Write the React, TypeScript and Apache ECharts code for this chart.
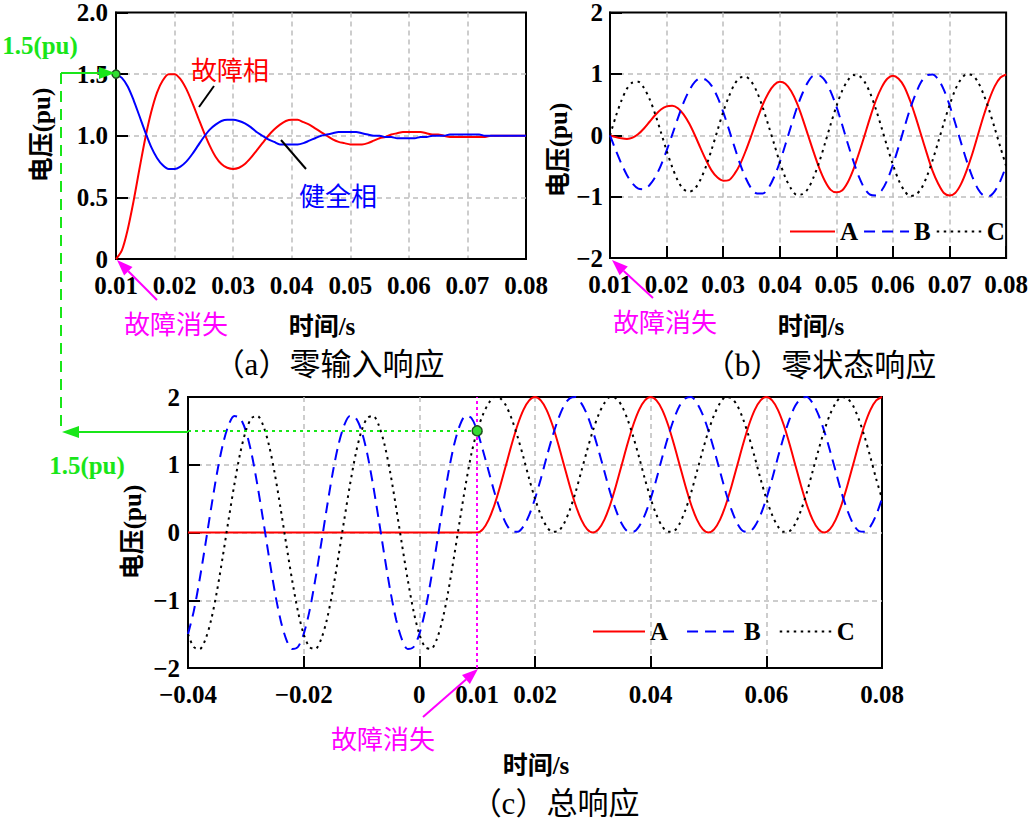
import React, { useEffect, useRef } from "react";
import * as echarts from "echarts";

// ---- sampling grid (seconds) ----
const T_STEP = 0.001;
const T_AB_START = 0.01; // panels (a) and (b)
const T_C_START = -0.04; // panel (c)

// ---- tick labels ----
const X_LABELS_AB = [0.01, 0.02, 0.03, 0.04, 0.05, 0.06, 0.07, 0.08];
const X_LABELS_C = [-0.04, -0.02, 0, 0.01, 0.02, 0.04, 0.06, 0.08];

// ---- (a) zero-input response ----
const A_FAULT = [
  0, 0.07, 0.24, 0.47, 0.73, 0.98, 1.19, 1.35, 1.45, 1.5,
  1.5, 1.46, 1.38, 1.27, 1.15, 1.03, 0.92, 0.83, 0.77, 0.74,
  0.73, 0.74, 0.77, 0.82, 0.88, 0.94, 1.0, 1.05, 1.09, 1.12,
  1.13, 1.13, 1.11, 1.09, 1.06, 1.03, 1.0, 0.97, 0.95, 0.94,
  0.93, 0.93, 0.93, 0.94, 0.96, 0.98, 0.99, 1.01, 1.02, 1.03,
  1.03, 1.03, 1.03, 1.02, 1.01, 1.01, 1.0, 0.99, 0.99, 0.99,
  0.99, 0.99, 0.99, 0.99, 1.0, 1.0, 1.0, 1.0, 1.0, 1.0,
  1.0,
];
const A_HEALTHY = [
  1.5, 1.47, 1.4, 1.29, 1.16, 1.03, 0.91, 0.82, 0.76, 0.73,
  0.73, 0.75, 0.79, 0.85, 0.92, 0.99, 1.05, 1.09, 1.12, 1.13,
  1.13, 1.12, 1.1, 1.07, 1.03, 1.0, 0.97, 0.95, 0.93, 0.93,
  0.93, 0.93, 0.94, 0.96, 0.98, 1.0, 1.01, 1.02, 1.03, 1.03,
  1.03, 1.03, 1.02, 1.01, 1.0, 1.0, 0.99, 0.99, 0.98, 0.98,
  0.98, 0.98, 0.99, 0.99, 1.0, 1.0, 1.0, 1.01, 1.01, 1.01,
  1.01, 1.01, 1.01, 1.0, 1.0, 1.0, 1.0, 1.0, 1.0, 1.0,
  1.0,
];

// ---- (b) zero-state response ----
const B_PHASE_A = [
  0, -0.03, -0.05, -0.06, -0.04, 0.02, 0.11, 0.22, 0.33, 0.42,
  0.47, 0.48, 0.44, 0.34, 0.19, 0.0, -0.21, -0.41, -0.58, -0.69,
  -0.74, -0.73, -0.63, -0.47, -0.25, 0.0, 0.26, 0.5, 0.69, 0.82,
  0.87, 0.84, 0.72, 0.53, 0.28, 0.0, -0.28, -0.54, -0.75, -0.89,
  -0.93, -0.9, -0.77, -0.56, -0.29, 0.0, 0.3, 0.57, 0.78, 0.92,
  0.97, 0.92, 0.79, 0.57, 0.3, 0.0, -0.3, -0.58, -0.79, -0.94,
  -0.98, -0.94, -0.8, -0.58, -0.31, 0.0, 0.31, 0.58, 0.8, 0.94,
  0.99,
];
const B_PHASE_B = [
  0, -0.24, -0.46, -0.65, -0.79, -0.87, -0.88, -0.81, -0.68, -0.49,
  -0.25, 0.01, 0.28, 0.53, 0.73, 0.87, 0.93, 0.9, 0.8, 0.62,
  0.38, 0.1, -0.19, -0.47, -0.7, -0.87, -0.95, -0.95, -0.86, -0.68,
  -0.44, -0.15, 0.15, 0.44, 0.68, 0.87, 0.97, 0.97, 0.89, 0.71,
  0.47, 0.18, -0.13, -0.42, -0.68, -0.87, -0.97, -0.98, -0.9, -0.73,
  -0.48, -0.19, 0.12, 0.42, 0.67, 0.87, 0.98, 0.99, 0.91, 0.74,
  0.49, 0.2, -0.11, -0.41, -0.67, -0.87, -0.98, -0.99, -0.91, -0.74,
  -0.5,
];
const B_PHASE_C = [
  0, 0.3, 0.56, 0.76, 0.86, 0.87, 0.77, 0.59, 0.34, 0.05,
  -0.25, -0.52, -0.74, -0.88, -0.92, -0.87, -0.72, -0.5, -0.22, 0.08,
  0.38, 0.63, 0.83, 0.94, 0.95, 0.87, 0.7, 0.45, 0.16, -0.14,
  -0.44, -0.69, -0.87, -0.97, -0.96, -0.87, -0.68, -0.43, -0.13, 0.18,
  0.47, 0.72, 0.89, 0.98, 0.97, 0.87, 0.68, 0.42, 0.12, -0.19,
  -0.48, -0.73, -0.9, -0.99, -0.97, -0.87, -0.67, -0.41, -0.11, 0.2,
  0.49, 0.74, 0.91, 0.99, 0.98, 0.87, 0.67, 0.41, 0.11, -0.2,
  -0.5,
];

// ---- (c) total response ----
const C_PHASE_A = [
  0, 0, 0, 0, 0, 0, 0, 0, 0, 0,
  0, 0, 0, 0, 0, 0, 0, 0, 0, 0,
  0, 0, 0, 0, 0, 0, 0, 0, 0, 0,
  0, 0, 0, 0, 0, 0, 0, 0, 0, 0,
  0, 0, 0, 0, 0, 0, 0, 0, 0, 0,
  0,
  0.05, 0.19, 0.41, 0.69, 1.0, 1.31, 1.59, 1.81, 1.95, 2.0,
  1.95, 1.81, 1.59, 1.31, 1.0, 0.69, 0.41, 0.19, 0.05, 0.0,
  0.05, 0.19, 0.41, 0.69, 1.0, 1.31, 1.59, 1.81, 1.95, 2.0,
  1.95, 1.81, 1.59, 1.31, 1.0, 0.69, 0.41, 0.19, 0.05, 0.0,
  0.05, 0.19, 0.41, 0.69, 1.0, 1.31, 1.59, 1.81, 1.95, 2.0,
  1.95, 1.81, 1.59, 1.31, 1.0, 0.69, 0.41, 0.19, 0.05, 0.0,
  0.05, 0.19, 0.41, 0.69, 1.0, 1.31, 1.59, 1.81, 1.95, 2.0,
];
const C_PHASE_B = [
  -1.5, -1.16, -0.7, -0.18, 0.36, 0.87, 1.29, 1.58, 1.72, 1.69,
  1.5, 1.16, 0.7, 0.18, -0.36, -0.87, -1.29, -1.58, -1.72, -1.69,
  -1.5, -1.16, -0.7, -0.18, 0.36, 0.87, 1.29, 1.58, 1.72, 1.69,
  1.5, 1.16, 0.7, 0.18, -0.36, -0.87, -1.29, -1.58, -1.72, -1.69,
  -1.5, -1.16, -0.7, -0.18, 0.36, 0.87, 1.29, 1.58, 1.72, 1.69,
  1.5,
  1.21, 0.9, 0.59, 0.33, 0.13, 0.02, 0.01, 0.09, 0.26, 0.5,
  0.79, 1.11, 1.41, 1.67, 1.87, 1.98, 2.0, 1.91, 1.74, 1.5,
  1.21, 0.9, 0.59, 0.33, 0.13, 0.02, 0.01, 0.09, 0.26, 0.5,
  0.79, 1.11, 1.41, 1.67, 1.87, 1.98, 2.0, 1.91, 1.74, 1.5,
  1.21, 0.9, 0.59, 0.33, 0.13, 0.02, 0.01, 0.09, 0.26, 0.5,
  0.79, 1.11, 1.41, 1.67, 1.87, 1.98, 2.0, 1.91, 1.74, 1.5,
  1.21, 0.9, 0.59, 0.33, 0.13, 0.02, 0.01, 0.09, 0.26, 0.5,
];
const C_PHASE_C = [
  -1.5, -1.69, -1.72, -1.58, -1.29, -0.87, -0.36, 0.18, 0.7, 1.16,
  1.5, 1.69, 1.72, 1.58, 1.29, 0.87, 0.36, -0.18, -0.7, -1.16,
  -1.5, -1.69, -1.72, -1.58, -1.29, -0.87, -0.36, 0.18, 0.7, 1.16,
  1.5, 1.69, 1.72, 1.58, 1.29, 0.87, 0.36, -0.18, -0.7, -1.16,
  -1.5, -1.69, -1.72, -1.58, -1.29, -0.87, -0.36, 0.18, 0.7, 1.16,
  1.5,
  1.74, 1.91, 2.0, 1.98, 1.87, 1.67, 1.41, 1.11, 0.79, 0.5,
  0.26, 0.09, 0.01, 0.02, 0.13, 0.33, 0.59, 0.9, 1.21, 1.5,
  1.74, 1.91, 2.0, 1.98, 1.87, 1.67, 1.41, 1.11, 0.79, 0.5,
  0.26, 0.09, 0.01, 0.02, 0.13, 0.33, 0.59, 0.9, 1.21, 1.5,
  1.74, 1.91, 2.0, 1.98, 1.87, 1.67, 1.41, 1.11, 0.79, 0.5,
  0.26, 0.09, 0.01, 0.02, 0.13, 0.33, 0.59, 0.9, 1.21, 1.5,
  1.74, 1.91, 2.0, 1.98, 1.87, 1.67, 1.41, 1.11, 0.79, 0.5,
];

// fault clearing instant and marked voltage
const FAULT_CLEAR_T = 0.01;
const MARK_V = 1.5;

const SERIF = '"Liberation Serif", "Times New Roman", serif';
const MIXED = '"Liberation Serif", "Noto Sans CJK SC", serif';
const CJK = '"Noto Sans CJK SC", sans-serif';
const RED = "#ff0000";
const BLUE = "#0000ff";
const MAGENTA = "#ff00ff";
const GREEN = "#19e619";
const GRID_GRAY = "#bdbdbd";

const toPairs = (t0: number, vals: number[]) =>
  vals.map((v, i) => [+(t0 + i * T_STEP).toFixed(3), v]);

const fmtSigned = (v: number) => (v < 0 ? "\u2212" + Math.abs(v) : String(v));

function text(x: number, y: number, s: string, color: string, size: number, font: string, opts: any = {}) {
  return {
    type: "text",
    x,
    y,
    rotation: opts.rotation || 0,
    z: 100,
    style: {
      text: s,
      fill: color,
      fontSize: size,
      fontFamily: font,
      fontWeight: opts.weight || "normal",
      align: "center",
      verticalAlign: "middle",
    },
  };
}
function seg(x1: number, y1: number, x2: number, y2: number, color: string, w = 2, dash: any = null) {
  return {
    type: "line",
    z: 100,
    shape: { x1, y1, x2, y2 },
    style: { stroke: color, lineWidth: w, lineDash: dash },
  };
}
function head(pts: number[][], color: string) {
  return { type: "polygon", z: 100, shape: { points: pts }, style: { fill: color } };
}

export default function App() {
  const ref = useRef<HTMLDivElement>(null);
  useEffect(() => {
    if (!ref.current) return;
    const chart = echarts.init(ref.current, null, { renderer: "svg" });

    const axisLineStyle = { onZero: false, lineStyle: { color: "#000", width: 2 } };
    const splitLine = {
      show: true, showMinLine: false, showMaxLine: false,
      lineStyle: { color: GRID_GRAY, width: 1.5, type: [5, 4] },
    };
    const tickInside = { show: true, inside: true, length: 12, lineStyle: { color: "#000", width: 2 } };
    const labelStyle = { color: "#000", fontFamily: SERIF, fontSize: 25, fontWeight: "bold" };

    const dashedB = { color: BLUE, width: 2, type: [11, 7] };
    const dottedC = { color: "#000", width: 2, type: [2.5, 4.5] };
    const legendText = { fontFamily: SERIF, fontSize: 25, fontWeight: "bold", color: "#000" };

    const option: any = {
      animation: false,
      backgroundColor: "#fff",
      grid: [
        { left: 116, top: 11, width: 410, height: 248, show: true, borderColor: "#000", borderWidth: 2 },
        { left: 610, top: 7, width: 400, height: 251, show: true, borderColor: "#000", borderWidth: 2 },
        { left: 188, top: 397, width: 694, height: 271, show: true, borderColor: "#000", borderWidth: 2 },
      ],
      xAxis: [
        {
          type: "value", gridIndex: 0, min: 0.01, max: 0.08, interval: 0.01,
          axisLine: axisLineStyle, axisTick: { show: false }, splitLine,
          axisLabel: { ...labelStyle, margin: 14, customValues: X_LABELS_AB, formatter: (v: number) => v.toFixed(2) },
        },
        {
          type: "value", gridIndex: 1, min: 0.01, max: 0.08, interval: 0.01,
          axisLine: axisLineStyle, axisTick: tickInside, splitLine,
          axisLabel: { ...labelStyle, margin: 14, customValues: X_LABELS_AB, formatter: (v: number) => v.toFixed(2) },
        },
        {
          type: "value", gridIndex: 2, min: -0.04, max: 0.08, interval: 0.02,
          axisLine: axisLineStyle, axisTick: tickInside, splitLine,
          axisLabel: {
            ...labelStyle, margin: 14, customValues: X_LABELS_C,
            formatter: (v: number) => (v === 0 ? "0" : (v < 0 ? "\u2212" : "") + Math.abs(v).toFixed(2)),
          },
        },
      ],
      yAxis: [
        {
          type: "value", gridIndex: 0, min: 0, max: 2, interval: 0.5,
          axisLine: axisLineStyle, axisTick: tickInside, splitLine,
          axisLabel: { ...labelStyle, margin: 8, formatter: (v: number) => (v === 0 ? "0" : v.toFixed(1)) },
        },
        {
          type: "value", gridIndex: 1, min: -2, max: 2, interval: 1,
          axisLine: axisLineStyle, axisTick: tickInside, splitLine,
          axisLabel: { ...labelStyle, margin: 7, formatter: fmtSigned },
        },
        {
          type: "value", gridIndex: 2, min: -2, max: 2, interval: 1,
          axisLine: axisLineStyle, axisTick: tickInside, splitLine,
          axisLabel: { ...labelStyle, margin: 8, formatter: fmtSigned },
        },
      ],
      legend: [
        {
          left: 789, top: 219, width: 240, padding: 0, itemWidth: 45, itemHeight: 14, itemGap: 5,
          data: ["A", "B", "C"], selectedMode: false,
          itemStyle: { opacity: 0 },
          textStyle: legendText,
        },
        {
          left: 592, top: 619, width: 300, padding: 0, itemWidth: 52, itemHeight: 14, itemGap: 18,
          data: ["A", "B", "C"], selectedMode: false,
          itemStyle: { opacity: 0 },
          textStyle: legendText,
        },
      ],
      series: [
        {
          name: "故障相", type: "line", xAxisIndex: 0, yAxisIndex: 0, symbol: "none", smooth: 0.3,
          data: toPairs(T_AB_START, A_FAULT), lineStyle: { color: RED, width: 2 }, itemStyle: { color: RED },
        },
        {
          name: "健全相", type: "line", xAxisIndex: 0, yAxisIndex: 0, symbol: "none", smooth: 0.3,
          data: toPairs(T_AB_START, A_HEALTHY), lineStyle: { color: BLUE, width: 2 }, itemStyle: { color: BLUE },
          markPoint: {
            symbol: "circle", symbolSize: 8, silent: true, label: { show: false },
            itemStyle: { color: "#33dd33", borderColor: "#1f4f1f", borderWidth: 1.5 },
            data: [{ coord: [FAULT_CLEAR_T, MARK_V] }],
          },
        },
        {
          name: "A", type: "line", xAxisIndex: 1, yAxisIndex: 1, symbol: "none", smooth: 0.3,
          data: toPairs(T_AB_START, B_PHASE_A), lineStyle: { color: RED, width: 2 }, itemStyle: { color: RED },
        },
        {
          name: "B", type: "line", xAxisIndex: 1, yAxisIndex: 1, symbol: "none", smooth: 0.3,
          data: toPairs(T_AB_START, B_PHASE_B), lineStyle: dashedB, itemStyle: { color: BLUE },
        },
        {
          name: "C", type: "line", xAxisIndex: 1, yAxisIndex: 1, symbol: "none", smooth: 0.3,
          data: toPairs(T_AB_START, B_PHASE_C), lineStyle: dottedC, itemStyle: { color: "#000" },
        },
        {
          name: "A", type: "line", xAxisIndex: 2, yAxisIndex: 2, symbol: "none", smooth: 0.3,
          data: toPairs(T_C_START, C_PHASE_A), lineStyle: { color: RED, width: 2 }, itemStyle: { color: RED },
          markLine: {
            silent: true, symbol: ["none", "none"], label: { show: false },
            data: [
              { xAxis: FAULT_CLEAR_T, lineStyle: { color: MAGENTA, width: 2, type: [3, 3] } },
              [
                { coord: [-0.04, MARK_V], lineStyle: { color: GREEN, width: 2, type: [3, 4] } },
                { coord: [FAULT_CLEAR_T, MARK_V] },
              ],
            ],
          },
        },
        {
          name: "B", type: "line", xAxisIndex: 2, yAxisIndex: 2, symbol: "none", smooth: 0.3,
          data: toPairs(T_C_START, C_PHASE_B), lineStyle: dashedB, itemStyle: { color: BLUE },
        },
        {
          name: "C", type: "line", xAxisIndex: 2, yAxisIndex: 2, symbol: "none", smooth: 0.3,
          data: toPairs(T_C_START, C_PHASE_C), lineStyle: dottedC, itemStyle: { color: "#000" },
          markPoint: {
            symbol: "circle", symbolSize: 10, silent: true, label: { show: false },
            itemStyle: { color: "#33dd33", borderColor: "#1f4f1f", borderWidth: 1.5 },
            data: [{ coord: [FAULT_CLEAR_T, MARK_V] }],
          },
        },
      ],
      graphic: [
        // titles
        text(329, 364, "（a）零输入响应", "#000", 31, MIXED),
        text(820, 365, "（b）零状态响应", "#000", 31, MIXED),
        text(555, 803, "（c）总响应", "#000", 31, MIXED),
        // axis names
        text(322, 326, "时间/s", "#000", 25, MIXED, { weight: "bold" }),
        text(811, 326, "时间/s", "#000", 25, MIXED, { weight: "bold" }),
        text(536, 765, "时间/s", "#000", 25, MIXED, { weight: "bold" }),
        text(41, 135, "电压(pu)", "#000", 25, MIXED, { weight: "bold", rotation: Math.PI / 2 }),
        text(558, 150, "电压(pu)", "#000", 25, MIXED, { weight: "bold", rotation: Math.PI / 2 }),
        text(132, 532, "电压(pu)", "#000", 25, MIXED, { weight: "bold", rotation: Math.PI / 2 }),
        // (a) annotations
        text(230, 68, "故障相", RED, 26, CJK),
        seg(214, 86, 199, 107, "#000", 2),
        text(338, 194, "健全相", BLUE, 26, CJK),
        seg(281, 140, 306, 169, "#000", 2),
        // fault clearing arrows and labels
        text(176, 322, "故障消失", MAGENTA, 26, CJK),
        seg(157, 300, 128.3, 271.3, MAGENTA, 2),
        head([[117, 260], [132.5, 267.1], [124.1, 275.5]], MAGENTA),
        text(665, 320, "故障消失", MAGENTA, 26, CJK),
        seg(653, 298, 623.7, 270.9, MAGENTA, 2),
        head([[612, 260], [627.8, 266.5], [619.6, 275.3]], MAGENTA),
        text(383, 737, "故障消失", MAGENTA, 26, CJK),
        seg(423, 717, 466, 679.5, MAGENTA, 2),
        head([[478, 669], [469.9, 684.0], [462.0, 675.0]], MAGENTA),
        // green 1.5 pu link
        text(40, 45, "1.5(pu)", GREEN, 25, SERIF, { weight: "bold" }),
        seg(61, 73, 100, 73, GREEN, 2),
        head([[115, 73], [99, 67], [99, 79]], GREEN),
        seg(61, 73, 61, 432, GREEN, 2, [11, 7]),
        seg(78, 432, 188, 432, GREEN, 2),
        head([[62, 432], [79, 426], [79, 438]], GREEN),
        text(87, 465, "1.5(pu)", GREEN, 25, SERIF, { weight: "bold" }),
      ],
    };

    chart.setOption(option);
    return () => chart.dispose();
  }, []);

  return (
    <div
      ref={ref}
      style={{ position: "absolute", left: 0, top: 0, width: 1031, height: 826, background: "#fff" }}
    />
  );
}
